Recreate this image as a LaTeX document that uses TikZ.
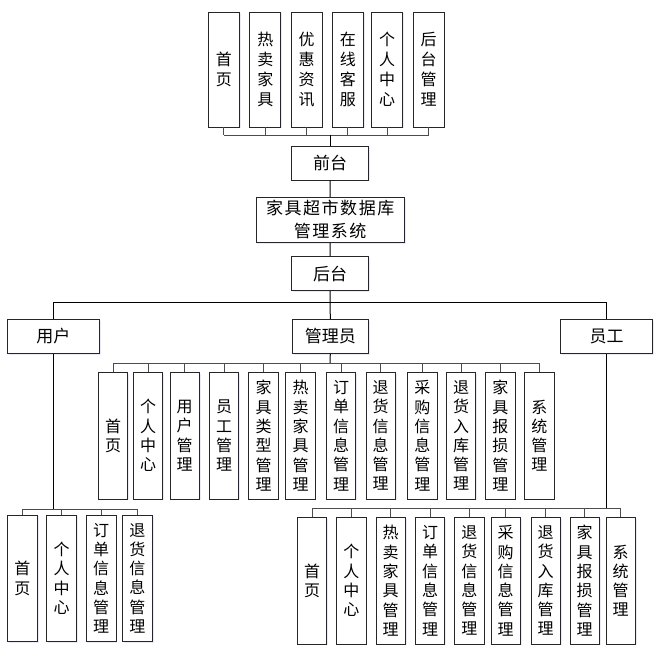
\documentclass[tikz,border=0pt]{standalone}
\usepackage{fontspec}
\newfontfamily\cjk{Noto Sans CJK SC}
\newfontfamily\cjkt[LetterSpace=9]{Noto Sans CJK SC}
\usetikzlibrary{shadows}
\begin{document}
\begin{tikzpicture}[x=1pt,y=-1pt,
  box/.style={draw=black!85, line width=0.9pt, fill=white, inner sep=0pt, align=center,
     drop shadow={shadow xshift=1.2pt, shadow yshift=-1.2pt, fill=blue!25, opacity=0.35}},
  vtop/.style={box, minimum width=31, minimum height=115, font=\cjk\fontsize{16}{20}\selectfont},
  vlow/.style={box, minimum width=29.5, minimum height=126.7, font=\cjk\fontsize{16}{19.3}\selectfont},
  hbox/.style={box, minimum height=34, font=\cjk\fontsize{17}{21}\selectfont},
  mainline/.style={draw=black, line width=1pt},
  stub/.style={draw=black!70, line width=0.9pt}]
\useasboundingbox (0,0) rectangle (672,648);

% top row
\node[vtop] (t1) at (223.8,69.5) {首\\页};
\node[vtop] (t2) at (265.3,69.5) {热\\卖\\家\\具};
\node[vtop] (t3) at (306.5,69.5) {优\\惠\\资\\讯};
\node[vtop] (t4) at (347.8,69.5) {在\\线\\客\\服};
\node[vtop] (t5) at (387.2,69.5) {个\\人\\中\\心};
\node[vtop] (t6) at (428.7,69.5) {后\\台\\管\\理};

\node[hbox, minimum width=76.6] (front) at (330,163) {前台};
\node[box, minimum width=148.3, minimum height=45, font=\cjkt\fontsize{17}{23}\selectfont] (title) at (330.2,219.8) {家具超市数据库\\管理系统};
\node[hbox, minimum width=76.6] (back) at (330,273.7) {后台};

\node[hbox, minimum width=92] (user) at (53.3,336.3) {用户};
\node[hbox, minimum width=76] (admin) at (330.3,336.3) {管理员};
\node[hbox, minimum width=92] (staff) at (606.7,336.3) {员工};

% admin children
\node[vlow] (a1) at (113,435.7) {首\\页};
\node[vlow] (a2) at (148,435.7) {个\\人\\中\\心};
\node[vlow] (a3) at (184.7,435.7) {用\\户\\管\\理};
\node[vlow] (a4) at (224,435.7) {员\\工\\管\\理};
\node[vlow] (a5) at (263.5,435.7) {家\\具\\类\\型\\管\\理};
\node[vlow] (a6) at (300.5,435.7) {热\\卖\\家\\具\\管\\理};
\node[vlow] (a7) at (341,435.7) {订\\单\\信\\息\\管\\理};
\node[vlow] (a8) at (380.7,435.7) {退\\货\\信\\息\\管\\理};
\node[vlow] (a9) at (422.3,435.7) {采\\购\\信\\息\\管\\理};
\node[vlow] (a10) at (461,435.7) {退\\货\\入\\库\\管\\理};
\node[vlow] (a11) at (500.3,435.7) {家\\具\\报\\损\\管\\理};
\node[vlow] (a12) at (539.3,435.7) {系\\统\\管\\理};

% user children
\node[vlow, minimum width=30] (u1) at (22.3,578.3) {首\\页};
\node[vlow, minimum width=30] (u2) at (61.7,578.3) {个\\人\\中\\心};
\node[vlow, minimum width=30] (u3) at (101,578.3) {订\\单\\信\\息\\管\\理};
\node[vlow, minimum width=30] (u4) at (137.3,578.3) {退\\货\\信\\息\\管\\理};

% staff children
\node[vlow] (s1) at (312,580.7) {首\\页};
\node[vlow] (s2) at (351.3,580.7) {个\\人\\中\\心};
\node[vlow] (s3) at (390.7,580.7) {热\\卖\\家\\具\\管\\理};
\node[vlow] (s4) at (430,580.7) {订\\单\\信\\息\\管\\理};
\node[vlow] (s5) at (469.3,580.7) {退\\货\\信\\息\\管\\理};
\node[vlow] (s6) at (505.7,580.7) {采\\购\\信\\息\\管\\理};
\node[vlow] (s7) at (545.7,580.7) {退\\货\\入\\库\\管\\理};
\node[vlow] (s8) at (584.7,580.7) {家\\具\\报\\损\\管\\理};
\node[vlow] (s9) at (620.7,580.7) {系\\统\\管\\理};

% bus coordinates
\coordinate (topbus) at (330,135);
\coordinate (midbus) at (330,302.7);
\coordinate (abus) at (330,363.3);
\coordinate (ubus) at (53.3,509.3);
\coordinate (sbus) at (606.7,508.5);

% top connections
\foreach \n in {t1,t2,t3,t4,t5,t6} \draw[stub] (\n.south) -- (\n.south |- topbus);
\draw[stub] (t1.south |- topbus) -- (t6.south |- topbus);
\draw[mainline] (front.north) -- (topbus);
\draw[mainline] (front.south) -- (title.north);
\draw[mainline] (title.south) -- (back.north);

% back to roles
\draw[mainline] (back.south) -- (admin.north);
\draw[mainline] (user.north) -- (user.north |- midbus) -- (staff.north |- midbus) -- (staff.north);

% admin
\draw[mainline] (admin.south) -- (abus);
\draw[stub] (a1.north |- abus) -- (a12.north |- abus);
\foreach \n in {a1,a2,a3,a4,a5,a6,a7,a8,a9,a10,a11,a12} \draw[stub] (\n.north |- abus) -- (\n.north);

% user
\draw[mainline] (user.south) -- (ubus);
\draw[stub] (u1.north |- ubus) -- (u4.north |- ubus);
\foreach \n in {u1,u2,u3,u4} \draw[stub] (\n.north |- ubus) -- (\n.north);

% staff
\draw[mainline] (staff.south) -- (sbus);
\draw[stub] (s1.north |- sbus) -- (s9.north |- sbus);
\foreach \n in {s1,s2,s3,s4,s5,s6,s7,s8,s9} \draw[stub] (\n.north |- sbus) -- (\n.north);
\end{tikzpicture}
\end{document}
